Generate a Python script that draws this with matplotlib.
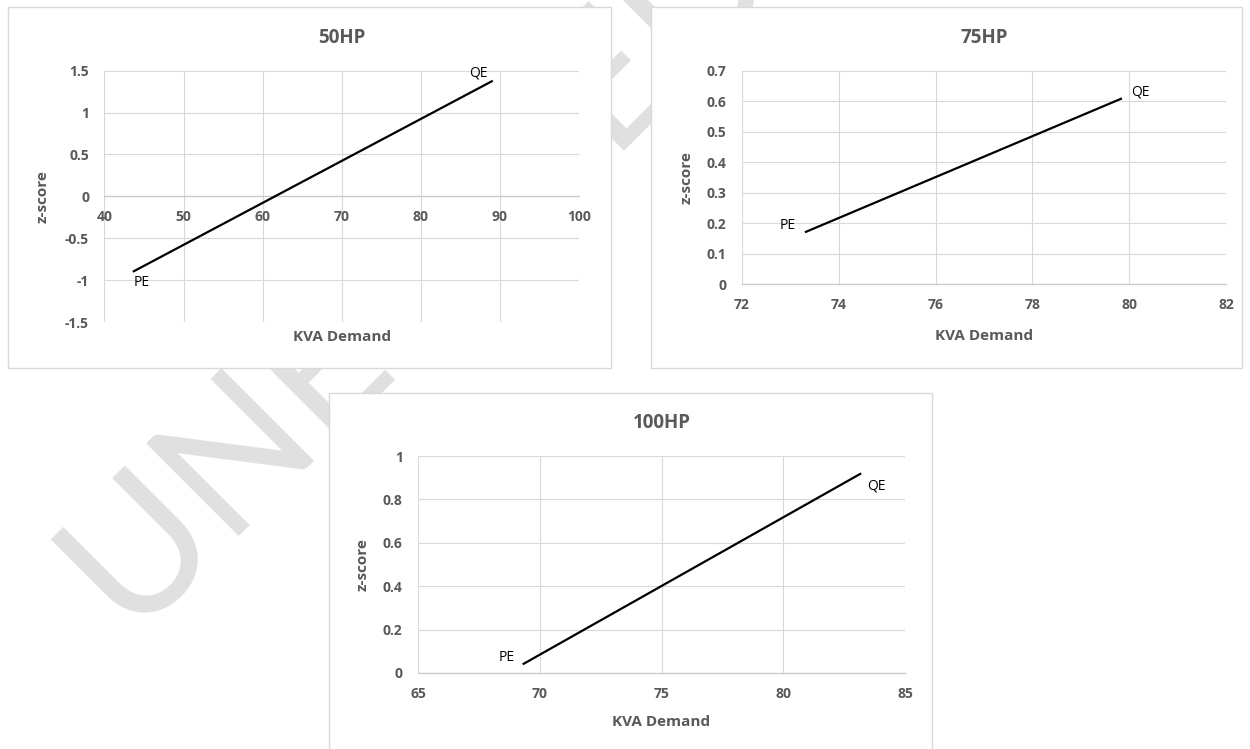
import numpy as np
import matplotlib
matplotlib.use("Agg")
import matplotlib.pyplot as plt
from matplotlib.patches import Rectangle

plt.rcParams['font.family'] = ['Open Sans', 'DejaVu Sans']
plt.rcParams['font.weight'] = 'bold'

# Data (line from PE to QE)
kva_50 = [43.6, 89.1]
z_50 = [-0.90, 1.38]
kva_75 = [73.3, 79.85]
z_75 = [0.17, 0.61]
kva_100 = [69.3, 83.2]
z_100 = [0.04, 0.92]
end_labels = ["PE", "QE"]

W, H = 1250, 749
grey_txt = "#595959"
grid_col = "#d9d9d9"

fig = plt.figure(figsize=(12.5, 7.49), dpi=100)

# watermark behind the chart panels
fig.text(128 / W, 1 - 632 / H, "UNEDITED", rotation=45, rotation_mode="anchor",
         ha="left", va="baseline", fontsize=132, fontweight="normal",
         family=["Lato", "DejaVu Sans"], color="#e0e0e0", zorder=0)

panels = [
    # title, x, z, border (l, t, r, b px), plot area (l, t, r, b px), xlim, xstep, ylim, ystep,
    # xlabel y, ylabel x, label offsets (px), axis at zero
    ("50HP", kva_50, z_50, (8, 7, 611, 368), (104.4, 70.7, 579, 322), (40, 100), 10,
     (-1.5, 1.5), 0.5, -0.032, -0.115, [(9, -11), (-14, 8)], True),
    ("75HP", kva_75, z_75, (651, 7, 1242, 368), (742, 71, 1226, 284), (72, 82), 2,
     (0, 0.7), 0.1, -0.211, -0.099, [(-17, 7), (18, 6)], False),
    ("100HP", kva_100, z_100, (329, 393, 932, 760), (418, 456, 905, 673), (65, 85), 5,
     (0, 1), 0.2, -0.194, -0.099, [(-16, 7), (15, -13)], False),
]

for (title, x, z, border, area, xlim, xstep, ylim, ystep,
     xl_y, yl_x, offs, zero_axis) in panels:
    l, t, r, b = border
    fig.add_artist(Rectangle((l / W, 1 - b / H), (r - l) / W, (b - t) / H,
                             transform=fig.transFigure, facecolor="white",
                             edgecolor=grid_col, lw=1.0, zorder=1))
    l, t, r, b = area
    ax = fig.add_axes([l / W, 1 - b / H, (r - l) / W, (b - t) / H])
    ax.set_zorder(3)
    ax.patch.set_alpha(0)

    ax.plot(x, z, color="black", lw=1.6, solid_capstyle="butt", zorder=4)
    for i, lab in enumerate(end_labels):
        ax.annotate(lab, (x[i], z[i]), xytext=offs[i], textcoords="offset pixels",
                    ha="center", va="center", fontsize=10, fontweight="normal",
                    color="black", zorder=5)

    ax.set_xlim(*xlim)
    ax.set_ylim(*ylim)
    xt = np.arange(xlim[0], xlim[1] + xstep / 2, xstep)
    yt = np.round(np.arange(ylim[0], ylim[1] + ystep / 2, ystep), 2)
    ax.set_xticks(xt)
    ax.set_xticklabels([f"{v:g}" for v in xt])
    ax.set_yticks(yt)
    ax.set_yticklabels([f"{v:g}" for v in yt])
    ax.tick_params(axis="both", length=0, labelsize=10, labelcolor=grey_txt)
    ax.tick_params(axis="x", pad=10)
    ax.tick_params(axis="y", pad=11)

    ax.grid(True, color=grid_col, lw=0.8)
    ax.set_axisbelow(True)
    for s in ["top", "left", "right"]:
        ax.spines[s].set_visible(False)
    ax.spines["bottom"].set_color("#c8c8c8")
    ax.spines["bottom"].set_linewidth(0.9)
    if zero_axis:
        ax.spines["bottom"].set_position(("data", 0))

    ax.set_title(title, fontsize=13.5, color=grey_txt, pad=20, fontweight="bold")
    ax.set_xlabel("KVA Demand", fontsize=11, color=grey_txt, fontweight="bold")
    ax.xaxis.set_label_coords(0.5, xl_y)
    ax.set_ylabel("z-score", fontsize=11, color=grey_txt, fontweight="bold")
    ax.yaxis.set_label_coords(yl_x, 0.5)

fig.savefig("out.png", dpi=100)
